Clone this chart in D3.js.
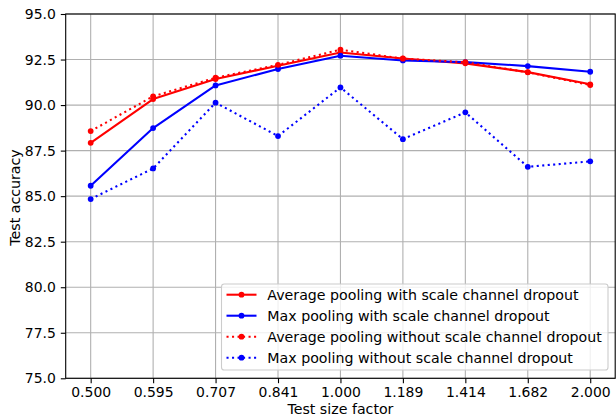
<!DOCTYPE html>
<html><head><meta charset="utf-8">
<script src="https://cdn.jsdelivr.net/npm/d3@7"></script>
<style>body{margin:0;background:#fff}svg{display:block}text{font-family:"DejaVu Sans",sans-serif;fill:#000}</style>
</head><body><svg id="c" width="616" height="416"></svg>
<script>
const categories = ["0.500","0.595","0.707","0.841","1.000","1.189","1.414","1.682","2.000"];
const avgWith    = [87.93, 90.33, 91.43, 92.16, 92.89, 92.56, 92.29, 91.81, 91.14];
const maxWith    = [85.57, 88.74, 91.08, 91.98, 92.71, 92.45, 92.36, 92.14, 91.83];
const avgWithout = [88.57, 90.48, 91.50, 92.21, 93.04, 92.55, 92.35, 91.80, 91.10];
const maxWithout = [84.84, 86.52, 90.13, 88.30, 90.97, 88.13, 89.60, 86.61, 86.91];
const yTicks = [75, 77.5, 80, 82.5, 85, 87.5, 90, 92.5, 95];
const seriesNames = ["Average pooling with scale channel dropout","Max pooling with scale channel dropout","Average pooling without scale channel dropout","Max pooling without scale channel dropout"];

const series = [
  {name: seriesNames[0], values: avgWith, color: "#ff0000", dotted: false},
  {name: seriesNames[1], values: maxWith, color: "#0000ff", dotted: false},
  {name: seriesNames[2], values: avgWithout, color: "#ff0000", dotted: true},
  {name: seriesNames[3], values: maxWithout, color: "#0000ff", dotted: true}
];

const L = 65.7, R = 615.2, T = 14, B = 378.3;
const svg = d3.select("#c");
const x = d3.scaleLinear().domain([-0.4, categories.length - 1 + 0.4]).range([L, R]);
const y = d3.scaleLinear().domain([75, 95]).range([B, T]);
const fs = 13.95, fl = 14.2;

// grid
const g = svg.append("g");
g.selectAll(".vg").data(categories).enter().append("line")
  .attr("x1", (d,i)=>x(i)).attr("x2",(d,i)=>x(i)).attr("y1",T).attr("y2",B)
  .attr("stroke","#b0b0b0").attr("stroke-width",1.1);
g.selectAll(".hg").data(yTicks).enter().append("line")
  .attr("x1", L).attr("x2", R).attr("y1", d=>y(d)).attr("y2", d=>y(d))
  .attr("stroke","#b0b0b0").attr("stroke-width",1.1);

// axes
const xAxis = d3.axisBottom(x).tickValues(d3.range(categories.length)).tickFormat(i=>categories[i]).tickSizeOuter(0).tickSize(4.9).tickPadding(3.8);
const yAxis = d3.axisLeft(y).tickValues(yTicks).tickFormat(d3.format(".1f")).tickSizeOuter(0).tickSize(4.9).tickPadding(4.9);
const gx = svg.append("g").attr("transform",`translate(0,${B})`).call(xAxis);
const gy = svg.append("g").attr("transform",`translate(${L},0)`).call(yAxis);
[gx, gy].forEach(a=>{
  a.select(".domain").remove();
  a.selectAll(".tick line").attr("stroke","#000").attr("stroke-width",1.1);
  a.selectAll(".tick text").attr("font-size", fs).attr("font-family","DejaVu Sans").attr("fill","#000");
});
gx.selectAll(".tick text").attr("dy","0.71em");

// lines
const line = d3.line().x((d,i)=>x(i)).y(d=>y(d));
series.forEach(s=>{
  svg.append("path").datum(s.values).attr("d", line)
    .attr("fill","none").attr("stroke", s.color).attr("stroke-width", 2.08)
    .attr("stroke-dasharray", s.dotted ? "2.08,3.43" : null)
    .attr("stroke-linejoin","round");
  svg.selectAll(null).data(s.values).enter().append("circle")
    .attr("cx",(d,i)=>x(i)).attr("cy",d=>y(d)).attr("r",2.9).attr("fill",s.color);
});

// spines
svg.append("rect").attr("x",L).attr("y",T).attr("width",R-L).attr("height",B-T)
  .attr("fill","none").attr("stroke","#000").attr("stroke-width",1.1);

// labels
svg.append("text").attr("x",(L+R)/2).attr("y",414).attr("text-anchor","middle").attr("font-size",fl).text("Test size factor");
svg.append("text").attr("transform",`translate(19.5,197.5) rotate(-90)`).attr("text-anchor","middle").attr("font-size",fl).text("Test accuracy");

// legend
const lg = svg.append("g");
lg.append("rect").attr("x",221.5).attr("y",284).attr("width",386.5).attr("height",86).attr("rx",2.8)
  .attr("fill","#fff").attr("fill-opacity",0.8).attr("stroke","#cccccc").attr("stroke-width",1.1);
series.forEach((s,i)=>{
  const yy = 294.7 + i*21.0;
  lg.append("line").attr("x1",226.5).attr("x2",256.5).attr("y1",yy).attr("y2",yy)
    .attr("stroke",s.color).attr("stroke-width",2.08).attr("stroke-dasharray", s.dotted ? "2.08,3.43" : null);
  lg.append("circle").attr("cx",241.5).attr("cy",yy).attr("r",2.9).attr("fill",s.color);
  lg.append("text").attr("x",267.3).attr("y",yy).attr("dy","0.35em").attr("font-size",fl).text(s.name);
});
</script></body></html>
